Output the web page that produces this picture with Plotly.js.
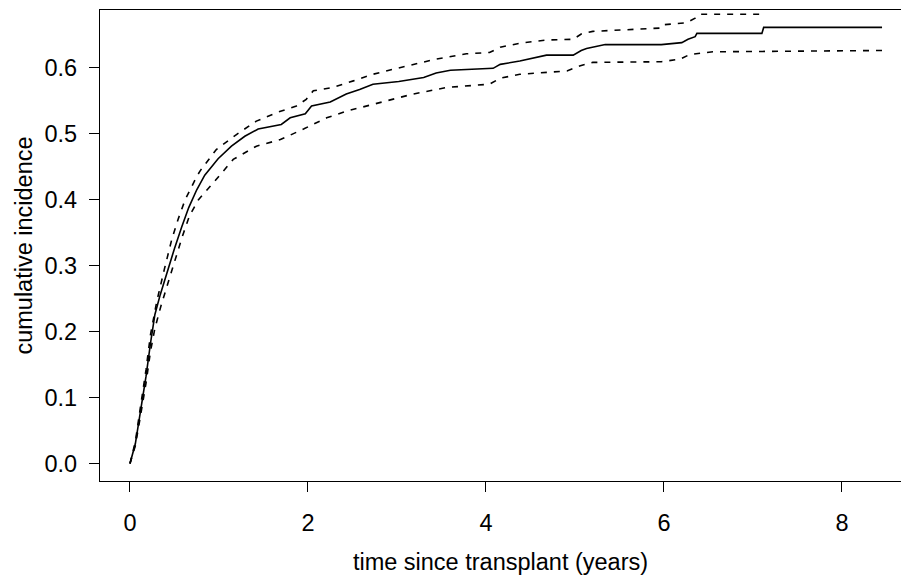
<!DOCTYPE html>
<html>
<head>
<meta charset="utf-8">
<script src="https://cdn.plot.ly/plotly-3.0.1.min.js"></script>
<style>html,body{margin:0;padding:0;background:#fff;}#chart{width:901px;height:575px;}</style>
</head>
<body>
<div id="chart"></div>
<script>
// cumulative incidence estimate (years, value)
const estTime = [0, 0.06, 0.12, 0.18, 0.23, 0.28, 0.34, 0.42, 0.50, 0.58, 0.66, 0.75, 0.84, 0.99, 1.14, 1.29, 1.44, 1.70, 1.80, 1.97, 2.04, 2.25, 2.43, 2.58, 2.73, 3.02, 3.30, 3.44, 3.60, 4.08, 4.16, 4.38, 4.57, 4.68, 4.98, 5.07, 5.13, 5.22, 5.34, 5.97, 6.20, 6.27, 6.35, 6.37, 7.10, 7.12, 8.45];
const estValue = [0, 0.030, 0.081, 0.132, 0.182, 0.226, 0.256, 0.292, 0.326, 0.358, 0.388, 0.415, 0.437, 0.462, 0.481, 0.496, 0.507, 0.514, 0.524, 0.530, 0.542, 0.548, 0.560, 0.567, 0.575, 0.579, 0.585, 0.592, 0.596, 0.599, 0.605, 0.610, 0.615, 0.619, 0.619, 0.626, 0.629, 0.632, 0.635, 0.635, 0.638, 0.643, 0.647, 0.652, 0.652, 0.661, 0.661];

// upper confidence limit
const upperTime = [0, 0.06, 0.12, 0.18, 0.23, 0.30, 0.385, 0.47, 0.54, 0.62, 0.75, 0.79, 0.97, 1.20, 1.42, 1.65, 1.87, 1.98, 2.06, 2.28, 2.51, 2.73, 3.00, 3.18, 3.44, 3.78, 4.04, 4.16, 4.38, 4.68, 4.98, 5.07, 5.20, 5.96, 5.99, 6.25, 6.35, 6.40, 7.10, 7.12, 8.45];
const upperValue = [0, 0.033, 0.088, 0.142, 0.195, 0.245, 0.294, 0.340, 0.370, 0.400, 0.435, 0.444, 0.476, 0.499, 0.519, 0.532, 0.542, 0.552, 0.565, 0.570, 0.580, 0.590, 0.599, 0.605, 0.613, 0.621, 0.623, 0.631, 0.637, 0.642, 0.643, 0.651, 0.655, 0.660, 0.665, 0.668, 0.675, 0.681, 0.681, 0.700, 0.700];

// lower confidence limit
const lowerTime = [0, 0.06, 0.12, 0.18, 0.23, 0.28, 0.35, 0.43, 0.51, 0.59, 0.67, 0.77, 0.94, 1.16, 1.42, 1.69, 1.95, 2.06, 2.21, 2.43, 2.66, 2.88, 3.03, 3.18, 3.56, 4.04, 4.16, 4.38, 4.91, 5.06, 5.20, 5.97, 6.18, 6.29, 6.55, 8.45];
const lowerValue = [0, 0.027, 0.074, 0.122, 0.170, 0.205, 0.240, 0.275, 0.310, 0.345, 0.376, 0.400, 0.426, 0.461, 0.481, 0.491, 0.507, 0.514, 0.524, 0.534, 0.542, 0.550, 0.555, 0.560, 0.570, 0.575, 0.584, 0.590, 0.595, 0.603, 0.608, 0.609, 0.613, 0.620, 0.624, 0.626];

const xTicks = [0, 2, 4, 6, 8];
const yTicks = [0, 0.1, 0.2, 0.3, 0.4, 0.5, 0.6];

const font = {family: 'Liberation Sans, Arial, sans-serif', size: 23.5, color: '#000'};

const traces = [
  {x: estTime, y: estValue, mode: 'lines', line: {color: '#000', width: 1.6}, hoverinfo: 'skip'},
  {x: upperTime, y: upperValue, mode: 'lines', line: {color: '#000', width: 1.6, dash: '6px,7px'}, hoverinfo: 'skip'},
  {x: lowerTime, y: lowerValue, mode: 'lines', line: {color: '#000', width: 1.6, dash: '6px,7px'}, hoverinfo: 'skip'}
];

const layout = {
  width: 901, height: 575,
  margin: {l: 100, r: 0, t: 10, b: 94},
  paper_bgcolor: '#fff', plot_bgcolor: '#fff',
  showlegend: false,
  font: font,
  xaxis: {
    range: [-0.337, 8.663],
    tickvals: xTicks, ticktext: xTicks.map(String),
    ticks: 'outside', ticklen: 10, tickwidth: 1, tickcolor: '#000',
    showline: true, linecolor: '#000', linewidth: 1.2, mirror: true,
    showgrid: false, zeroline: false,
    tickfont: font,
    ticklabelstandoff: 11,
    title: {text: 'time since transplant (years)', font: font, standoff: 20},
    automargin: false
  },
  yaxis: {
    range: [-0.0264, 0.6874],
    tickvals: yTicks, ticktext: yTicks.map(v => v.toFixed(1)),
    ticks: 'outside', ticklen: 10, tickwidth: 1, tickcolor: '#000',
    showline: true, linecolor: '#000', linewidth: 1.2, mirror: false,
    showgrid: false, zeroline: false,
    tickfont: font,
    ticklabelstandoff: 7,
    title: {text: 'cumulative incidence', font: font, standoff: 5},
    automargin: false
  }
};

Plotly.newPlot('chart', traces, layout, {displayModeBar: false, staticPlot: true});
</script>
</body>
</html>
